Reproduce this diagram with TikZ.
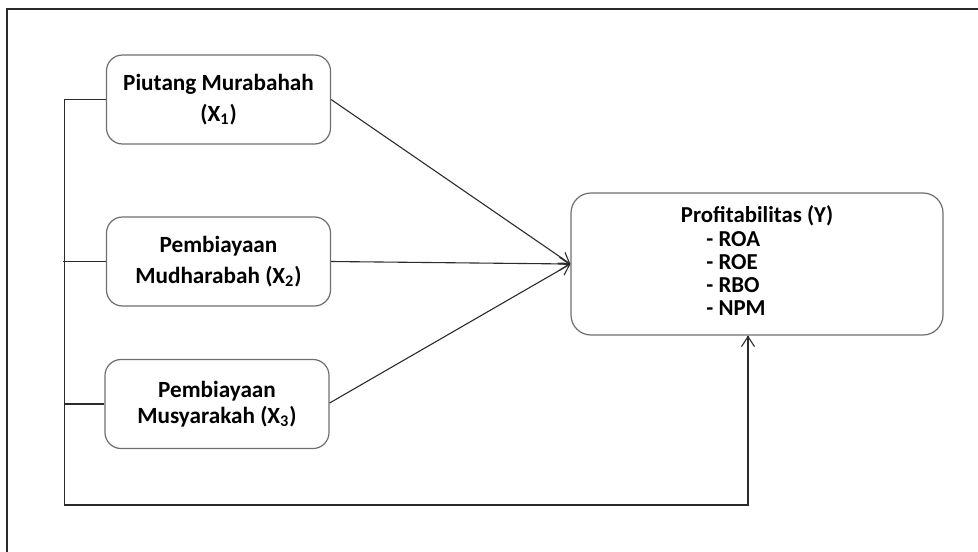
\documentclass[tikz,border=0pt]{standalone}
\usepackage{fontspec}
\setmainfont{Carlito}
\usepackage{xcolor}
\usepackage{tikz}
\usetikzlibrary{calc,arrows.meta}
\definecolor{boxline}{HTML}{6E6E6E}
\definecolor{wire}{HTML}{2B2B2B}
\tikzset{var/.style={draw=boxline,rounded corners=8pt,line width=0.6pt,minimum width=112pt,minimum height=44.5pt,inner sep=0pt,align=center,font=\bfseries\fontsize{11.6pt}{15.5pt}\selectfont},
  link/.style={wire,line width=0.55pt},
  tip/.style={link,-{Straight Barb[length=5pt,width=6.5pt]}}}

\begin{document}
\begin{tikzpicture}[x=0.5pt,y=-0.5pt]
\useasboundingbox (0,0) rectangle (978,551);
\draw[wire,line width=0.7pt] (7,560) -- (7,9) -- (990,9);
\node[var] (x1) at (218.5,99.5) {Piutang Murabahah\\(X\textsubscript{1})};
\node[var] (x2) at (218.5,261.5) {Pembiayaan\\Mudharabah (X\textsubscript{2})};
\node[var,font=\bfseries\fontsize{11.6pt}{13pt}\selectfont] (x3) at (217,404) {Pembiayaan\\Musyarakah (X\textsubscript{3})};
\node[var,rounded corners=10pt,minimum width=186pt,minimum height=71pt,font=\bfseries\fontsize{11.4pt}{11.6pt}\selectfont] (y) at (757,264)
  {\raisebox{-1pt}{Profitabilitas (Y)}\\[1pt]\begin{tabular}{@{}l@{}}- ROA\\- ROE\\- RBO\\- NPM\end{tabular}\hspace*{21pt}};
\draw[tip] (x1.east) -- (y.west);
\draw[tip] (x2.east) -- (y.west);
\draw[tip] ([yshift=0.5pt]x3.east) -- (y.west);
\draw[link] (x1.west) -- ++(-41,0) coordinate (bus) -- (bus |- 0,505) coordinate (corner) -| ([xshift=-4.5pt]y.south) coordinate (back);
\draw[tip] (corner -| back) -- (back);
\draw[link] (x2.west) -- ($(x2.west -| bus)+(-2,0)$);
\draw[link] (x3.west) -- (x3.west -| bus);
\end{tikzpicture}
\end{document}
